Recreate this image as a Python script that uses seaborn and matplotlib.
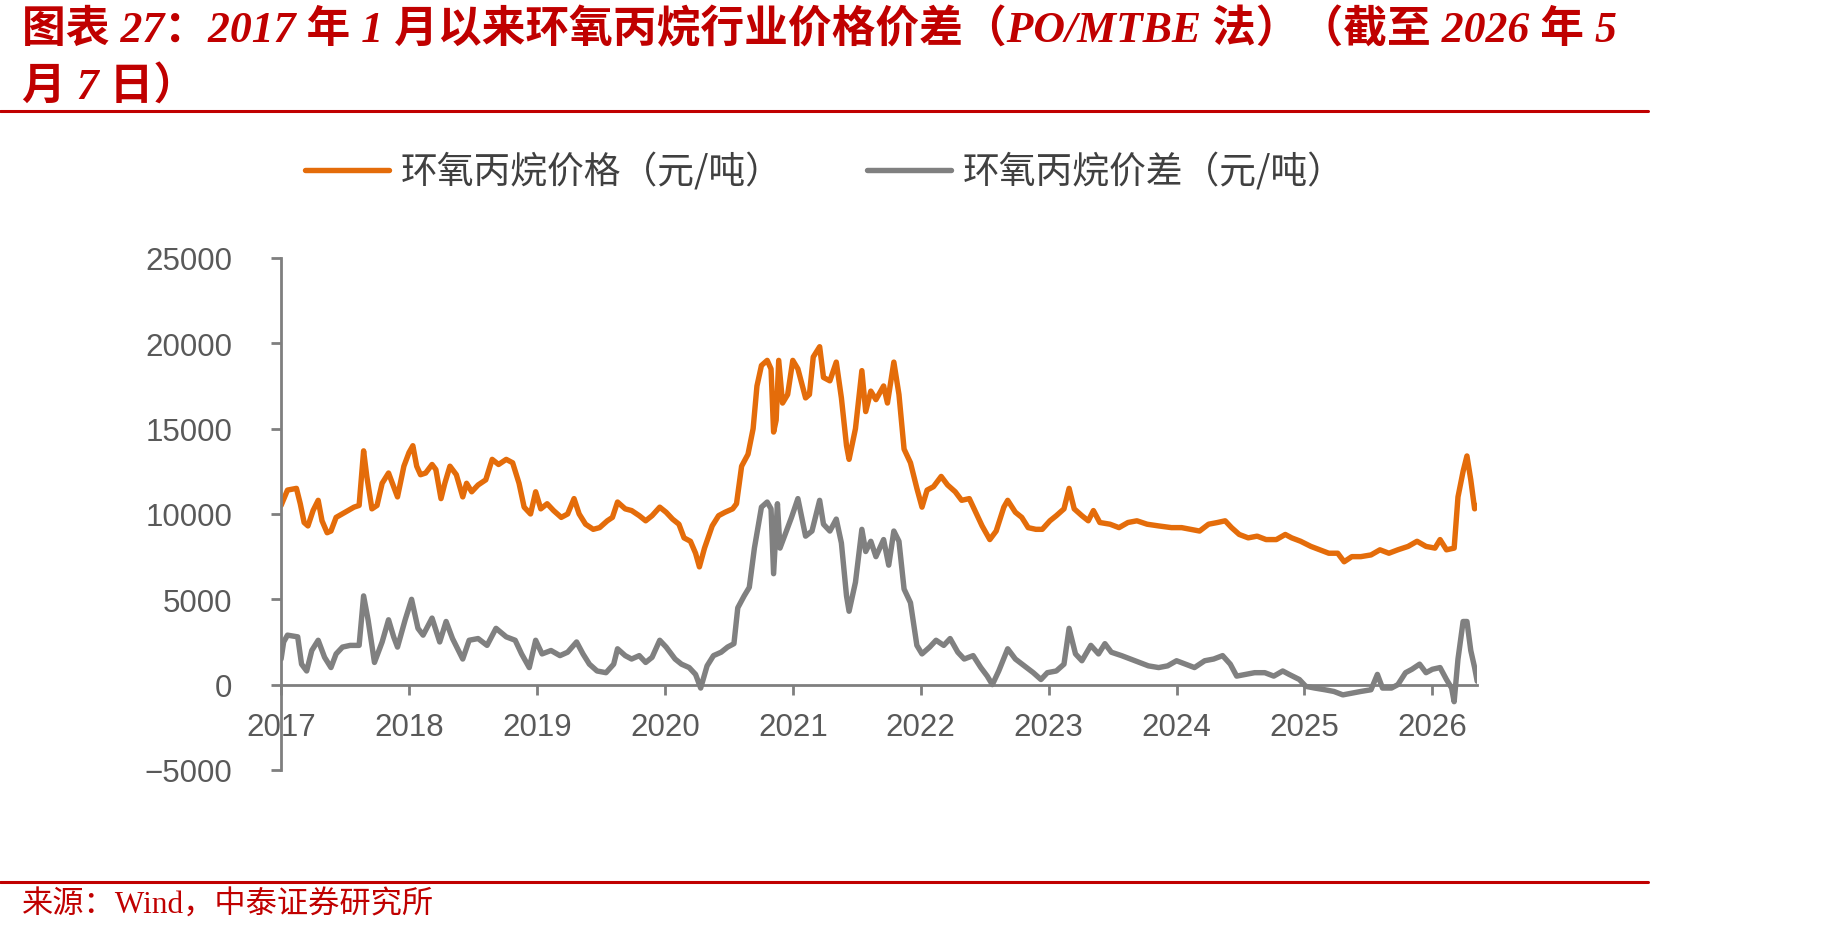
"""
环氧丙烷价格与价差（PO/MTBE 法），2017 年 1 月至 2026 年 5 月
"""

import matplotlib
matplotlib.use("Agg")
import matplotlib.pyplot as plt
from matplotlib.lines import Line2D
import seaborn as sns
import pandas as pd

sns.set_theme(style="white")
plt.rcParams["font.family"] = ["Liberation Sans", "Noto Sans CJK SC", "DejaVu Sans"]
plt.rcParams["axes.unicode_minus"] = True

TITLE_1 = "图表 27：2017 年 1 月以来环氧丙烷行业价格价差（PO/MTBE 法）（截至 2026 年 5"
TITLE_2 = "月 7 日）"
SOURCE = "来源：Wind，中泰证券研究所"

PRICE_LABEL = "环氧丙烷价格（元/吨）"
SPREAD_LABEL = "环氧丙烷价差（元/吨）"

YEARS = list(range(2017, 2027))
Y_TICKS = [-5000, 0, 5000, 10000, 15000, 20000, 25000]

# 价格（元/吨），按年份小数读取
price_t = [
    2017.00, 2017.05, 2017.12, 2017.15, 2017.18, 2017.21, 2017.25, 2017.29, 2017.32, 2017.36,
    2017.39, 2017.43, 2017.50, 2017.57, 2017.61, 2017.645, 2017.67, 2017.71, 2017.75, 2017.79,
    2017.84, 2017.88, 2017.91, 2017.96, 2018.00, 2018.03, 2018.06, 2018.09, 2018.13, 2018.18,
    2018.21, 2018.25, 2018.28, 2018.32, 2018.37, 2018.42, 2018.45, 2018.49, 2018.54, 2018.60,
    2018.65, 2018.70, 2018.76, 2018.81, 2018.86, 2018.90, 2018.95, 2018.99, 2019.03, 2019.08,
    2019.13, 2019.19, 2019.24, 2019.29, 2019.33, 2019.38, 2019.44, 2019.49, 2019.55, 2019.59,
    2019.63, 2019.69, 2019.74, 2019.80, 2019.85, 2019.90, 2019.96, 2020.01, 2020.06, 2020.11,
    2020.15, 2020.20, 2020.24, 2020.27, 2020.31, 2020.37, 2020.42, 2020.47, 2020.53, 2020.56,
    2020.60, 2020.65, 2020.69, 2020.72, 2020.755, 2020.80, 2020.83, 2020.85, 2020.87, 2020.89,
    2020.92, 2020.96, 2021.00, 2021.04, 2021.10, 2021.13, 2021.16, 2021.21, 2021.24, 2021.29,
    2021.34, 2021.38, 2021.42, 2021.44, 2021.49, 2021.54, 2021.57, 2021.61, 2021.65, 2021.71,
    2021.74, 2021.79, 2021.83, 2021.87, 2021.92, 2021.97, 2022.01, 2022.05, 2022.10, 2022.16,
    2022.21, 2022.27, 2022.32, 2022.38, 2022.43, 2022.48, 2022.54, 2022.59, 2022.65, 2022.68,
    2022.74, 2022.79, 2022.84, 2022.90, 2022.95, 2023.01, 2023.06, 2023.12, 2023.16, 2023.20,
    2023.26, 2023.31, 2023.35, 2023.40, 2023.48, 2023.55, 2023.62, 2023.69, 2023.77, 2023.86,
    2023.96, 2024.04, 2024.11, 2024.18, 2024.25, 2024.32, 2024.38, 2024.43, 2024.49, 2024.56,
    2024.63, 2024.70, 2024.78, 2024.85, 2024.90, 2024.97, 2025.05, 2025.12, 2025.19, 2025.26,
    2025.31, 2025.37, 2025.44, 2025.52, 2025.59, 2025.66, 2025.73, 2025.81, 2025.88, 2025.95,
    2026.02, 2026.06, 2026.11, 2026.17, 2026.20, 2026.24, 2026.27, 2026.30, 2026.33, 2026.35,
]
price_v = [
    10500, 11400, 11500, 10600, 9500, 9300, 10200, 10800, 9600, 8900,
    9000, 9800, 10100, 10400, 10500, 13700, 12200, 10300, 10500, 11800,
    12400, 11600, 11000, 12800, 13600, 14000, 12800, 12300, 12400, 12900,
    12600, 10900, 11800, 12800, 12300, 11000, 11800, 11300, 11700, 12000,
    13200, 12900, 13200, 13000, 11800, 10400, 10000, 11300, 10300, 10600,
    10200, 9800, 10000, 10900, 10000, 9400, 9100, 9200, 9600, 9800,
    10700, 10300, 10200, 9900, 9600, 9900, 10400, 10100, 9700, 9400,
    8600, 8400, 7700, 6900, 8000, 9300, 9900, 10100, 10300, 10600,
    12800, 13500, 15000, 17500, 18700, 19000, 18500, 14800, 15500, 19000,
    16500, 17000, 19000, 18500, 16800, 17000, 19200, 19800, 18000, 17800,
    18900, 16800, 14000, 13200, 15000, 18400, 16000, 17200, 16700, 17500,
    16500, 18900, 17000, 13800, 13000, 11500, 10400, 11400, 11600, 12200,
    11700, 11300, 10800, 10900, 10100, 9300, 8500, 9000, 10400, 10800,
    10100, 9800, 9200, 9100, 9100, 9600, 9900, 10300, 11500, 10300,
    9900, 9600, 10200, 9500, 9400, 9200, 9500, 9600, 9400, 9300,
    9200, 9200, 9100, 9000, 9400, 9500, 9600, 9200, 8800, 8600,
    8700, 8500, 8500, 8800, 8600, 8400, 8100, 7900, 7700, 7700,
    7200, 7500, 7500, 7600, 7900, 7700, 7900, 8100, 8400, 8100,
    8000, 8500, 7900, 8000, 11000, 12500, 13400, 12000, 10300, 10500,
]

# 价差（元/吨）
spread_t = [
    2017.00, 2017.02, 2017.05, 2017.13, 2017.16, 2017.20, 2017.24, 2017.29, 2017.34, 2017.39,
    2017.43, 2017.48, 2017.54, 2017.61, 2017.645, 2017.68, 2017.73, 2017.79, 2017.84, 2017.88,
    2017.91, 2017.97, 2018.02, 2018.07, 2018.11, 2018.18, 2018.24, 2018.29, 2018.34, 2018.42,
    2018.47, 2018.54, 2018.61, 2018.68, 2018.76, 2018.83, 2018.88, 2018.94, 2018.99, 2019.04,
    2019.11, 2019.18, 2019.24, 2019.31, 2019.36, 2019.41, 2019.47, 2019.54, 2019.60, 2019.63,
    2019.69, 2019.74, 2019.80, 2019.85, 2019.90, 2019.96, 2020.01, 2020.08, 2020.13, 2020.19,
    2020.24, 2020.28, 2020.33, 2020.38, 2020.44, 2020.49, 2020.54, 2020.57, 2020.62, 2020.66,
    2020.70, 2020.755, 2020.80, 2020.83, 2020.85, 2020.88, 2020.90, 2020.94, 2020.99, 2021.04,
    2021.10, 2021.15, 2021.21, 2021.24, 2021.29, 2021.34, 2021.38, 2021.42, 2021.44, 2021.49,
    2021.54, 2021.57, 2021.61, 2021.65, 2021.71, 2021.75, 2021.79, 2021.83, 2021.87, 2021.92,
    2021.97, 2022.01, 2022.07, 2022.12, 2022.18, 2022.23, 2022.29, 2022.34, 2022.41, 2022.47,
    2022.52, 2022.56, 2022.61, 2022.68, 2022.74, 2022.81, 2022.88, 2022.94, 2022.99, 2023.06,
    2023.12, 2023.16, 2023.21, 2023.26, 2023.33, 2023.39, 2023.44, 2023.49, 2023.57, 2023.64,
    2023.71, 2023.78, 2023.86, 2023.93, 2024.00, 2024.07, 2024.14, 2024.22, 2024.29, 2024.36,
    2024.42, 2024.47, 2024.54, 2024.61, 2024.69, 2024.76, 2024.83, 2024.88, 2024.96, 2025.01,
    2025.08, 2025.16, 2025.23, 2025.30, 2025.37, 2025.44, 2025.52, 2025.57, 2025.61, 2025.68,
    2025.73, 2025.79, 2025.84, 2025.90, 2025.95, 2026.00, 2026.06, 2026.11, 2026.15, 2026.17,
    2026.20, 2026.24, 2026.27, 2026.30, 2026.33, 2026.35,
]
spread_v = [
    1500, 2500, 2900, 2800, 1200, 800, 2000, 2600, 1600, 1000,
    1800, 2200, 2300, 2300, 5200, 3800, 1300, 2500, 3800, 2800,
    2200, 3800, 5000, 3300, 2900, 3900, 2500, 3700, 2700, 1500,
    2600, 2700, 2300, 3300, 2800, 2600, 1800, 1000, 2600, 1800,
    2000, 1700, 1900, 2500, 1800, 1200, 800, 700, 1200, 2100,
    1700, 1500, 1700, 1300, 1600, 2600, 2200, 1500, 1200, 1000,
    600, -200, 1100, 1700, 1900, 2200, 2400, 4500, 5200, 5700,
    8000, 10400, 10700, 10300, 6500, 10600, 8000, 8800, 9800, 10900,
    8700, 9000, 10800, 9400, 9000, 9700, 8300, 5200, 4300, 6000,
    9100, 7800, 8400, 7500, 8500, 7000, 9000, 8400, 5600, 4800,
    2300, 1800, 2200, 2600, 2300, 2700, 1900, 1500, 1700, 1000,
    500, 0, 800, 2100, 1500, 1100, 700, 300, 700, 800,
    1200, 3300, 1800, 1400, 2300, 1800, 2400, 1900, 1700, 1500,
    1300, 1100, 1000, 1100, 1400, 1200, 1000, 1400, 1500, 1700,
    1200, 500, 600, 700, 700, 500, 800, 600, 300, -100,
    -200, -300, -400, -600, -500, -400, -300, 600, -200, -200,
    0, 700, 900, 1200, 700, 900, 1000, 300, -200, -1000,
    1500, 3700, 3700, 2000, 1000, 200,
]

ORANGE = "#E46C0A"
GREY = "#808080"
AXIS_GREY = "#7F7F7F"
TEXT_GREY = "#595959"
RED = "#C00000"


def main():
    price_df = pd.DataFrame({"t": price_t, "v": price_v})
    spread_df = pd.DataFrame({"t": spread_t, "v": spread_v})

    fig = plt.figure(figsize=(18.3, 9.37), dpi=100)
    ax = fig.add_axes([0.1536, 0.1772, 0.6536, 0.5464])

    sns.lineplot(data=price_df, x="t", y="v", ax=ax, color=ORANGE, lw=3.9,
                 sort=False, estimator=None, label=PRICE_LABEL)
    sns.lineplot(data=spread_df, x="t", y="v", ax=ax, color=GREY, lw=3.9,
                 sort=False, estimator=None, label=SPREAD_LABEL)

    ax.set_xlim(2017, 2026.35)
    ax.set_ylim(-5000, 25000)
    ax.set_xticks(YEARS)
    ax.set_xticklabels([str(y) for y in YEARS])
    ax.set_yticks(Y_TICKS)
    ax.set_yticklabels(["\u22125000" if v < 0 else str(v) for v in Y_TICKS])
    ax.set_xlabel("")
    ax.set_ylabel("")

    # axes styling: y spine on left, x spine through zero
    for side in ["top", "right"]:
        ax.spines[side].set_visible(False)
    ax.spines["bottom"].set_position(("data", 0))
    for side in ["left", "bottom"]:
        ax.spines[side].set_color(AXIS_GREY)
        ax.spines[side].set_linewidth(2)
    ax.tick_params(axis="both", colors=AXIS_GREY, labelcolor=TEXT_GREY,
                   width=2, length=7, labelsize=22.5, left=True, bottom=True)
    ax.tick_params(axis="x", direction="out", pad=13)
    ax.tick_params(axis="y", direction="out", pad=28)
    for lab in ax.get_xticklabels() + ax.get_yticklabels():
        lab.set_family(["Liberation Sans", "DejaVu Sans"])

    ax.legend(loc="center", bbox_to_anchor=(0.4505, 0.815), bbox_transform=fig.transFigure,
              ncol=2, frameon=False, handlelength=2.3, handletextpad=0.3,
              columnspacing=2.3, prop={"family": ["Noto Sans CJK SC"], "size": 26.5},
              labelcolor="#404040")

    # title, rules and source
    title_font = ["Liberation Serif", "Noto Sans CJK SC"]
    fig.text(0.012, 1 - 30 / 937, TITLE_1, color=RED, fontsize=31.5, fontweight="bold",
             fontstyle="italic", family=title_font, va="center", ha="left")
    fig.text(0.012, 1 - 88 / 937, TITLE_2, color=RED, fontsize=31.5, fontweight="bold",
             fontstyle="italic", family=title_font, va="center", ha="left")
    fig.add_artist(Line2D([0, 0.9005], [1 - 112 / 937] * 2, color=RED, lw=2.2,
                          transform=fig.transFigure))
    fig.add_artist(Line2D([0, 0.9005], [1 - 883 / 937] * 2, color=RED, lw=2.2,
                          transform=fig.transFigure))
    fig.text(0.012, 1 - 906 / 937, SOURCE, color=RED, fontsize=22.5,
             family=["Liberation Serif", "Noto Sans CJK SC"], va="center", ha="left")

    fig.savefig("out.png", dpi=100)
    plt.close(fig)


if __name__ == "__main__":
    main()
